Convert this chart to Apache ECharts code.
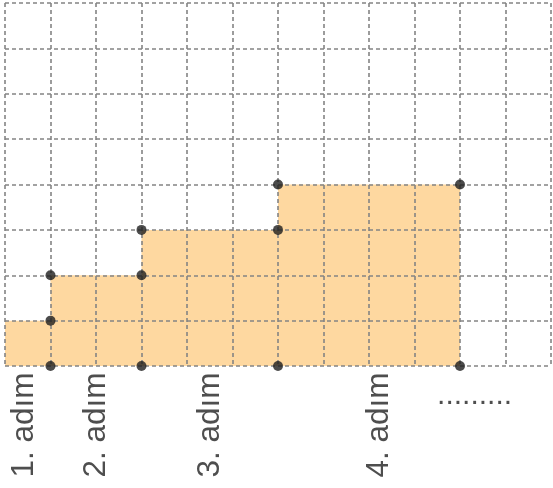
<!DOCTYPE html>
<html>
<head>
<meta charset="utf-8">
<script src="https://cdn.jsdelivr.net/npm/echarts@6/dist/echarts.min.js"></script>
<style>
html,body{margin:0;padding:0;background:#fff;}
#c{width:553px;height:488px;}
</style>
</head>
<body>
<div id="c"></div>
<script>
// step boundaries and heights
const stepStartX = [0, 1, 3, 6];
const stepEndX = [1, 3, 6, 10];
const stepHeight = [1, 2, 3, 4];
// black corner dots
const dotX = [1, 1, 1, 3, 3, 3, 6, 6, 6, 10, 10];
const dotY = [0, 1, 2, 0, 2, 3, 0, 3, 4, 0, 4];
// step labels
const labelText = ['1. adım', '2. adım', '3. adım', '4. adım'];
const labelX = [0.42, 2.0, 4.52, 8.23];
const labelY = [-1.3, -1.3, -1.3, -1.3];
const ellipsisText = '.........';
const ellipsisX = [10.32];
const ellipsisY = [-0.65];

const xMax = 12, yMax = 8;

const areaData = [];
for (let i = 0; i < stepStartX.length; i++) {
  areaData.push([stepStartX[i], stepHeight[i]]);
}
areaData.push([stepEndX[stepEndX.length - 1], stepHeight[stepHeight.length - 1]]);

const dots = dotX.map((x, i) => [x, dotY[i]]);
const labels = labelX.map((x, i) => ({ value: [x, labelY[i]], name: labelText[i] }));

const gridLine = { show: true, lineStyle: { color: '#848484', width: 1.6, type: [4, 3] } };

const chart = echarts.init(document.getElementById('c'));
chart.setOption({
  animation: false,
  grid: { left: 5, right: 2, top: 3, bottom: 122, containLabel: false },
  xAxis: {
    type: 'value', min: 0, max: xMax, interval: 1, z: 5,
    axisLine: { show: false }, axisTick: { show: false }, axisLabel: { show: false },
    splitLine: gridLine
  },
  yAxis: {
    type: 'value', min: 0, max: yMax, interval: 1, z: 5,
    axisLine: { show: false }, axisTick: { show: false }, axisLabel: { show: false },
    splitLine: gridLine
  },
  series: [
    {
      type: 'line', step: 'end', data: areaData, z: 1,
      symbol: 'none', lineStyle: { width: 0 },
      areaStyle: { color: '#FED8A0', opacity: 1 }
    },
    {
      type: 'scatter', data: dots, z: 10, symbolSize: 10,
      itemStyle: { color: '#1e1e1e' }
    },
    {
      type: 'scatter', data: labels, symbolSize: 0, clip: false, z: 10,
      label: {
        show: true, position: 'inside', rotate: 90,
        formatter: p => p.name,
        fontFamily: 'Liberation Sans', fontSize: 31.5, color: '#222222'
      }
    },
    {
      type: 'scatter', data: [{ value: [ellipsisX[0], ellipsisY[0]], name: ellipsisText }],
      symbolSize: 0, clip: false, z: 10,
      label: {
        show: true, position: 'inside',
        formatter: p => p.name,
        fontFamily: 'Liberation Sans', fontSize: 30, color: '#222222'
      }
    }
  ]
});
</script>
</body>
</html>
